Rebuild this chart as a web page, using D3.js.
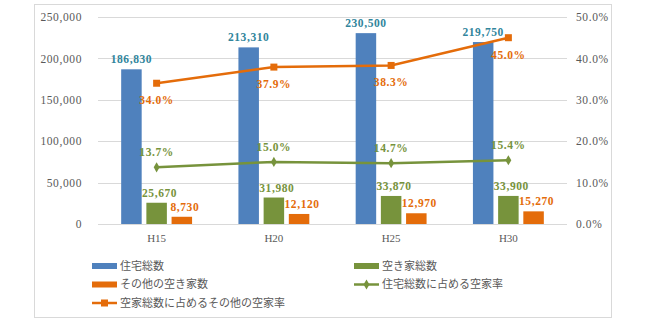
<!DOCTYPE html>
<html><head><meta charset="utf-8">
<script src="https://cdn.jsdelivr.net/npm/d3@7"></script>
<style>body{margin:0;background:#fff}svg{display:block}</style>
</head><body>
<svg id="c" width="650" height="333"></svg>
<script>
const categories = ["H15","H20","H25","H30"];
const totalHouses = [186830, 213310, 230500, 219750];
const vacantHouses = [25670, 31980, 33870, 33900];
const otherVacant = [8730, 12120, 12970, 15270];
const vacantRate = [13.7, 15.0, 14.7, 15.4];
const otherRate = [34.0, 37.9, 38.3, 45.0];
const leftTicks = [0, 50000, 100000, 150000, 200000, 250000];
const rightTicks = [0, 10, 20, 30, 40, 50];
const seriesNames = ["住宅総数","空き家総数","その他の空き家数","住宅総数に占める空家率","空家総数に占めるその他の空家率"];

const C = {blue:"#4F81BD", green:"#77933C", orange:"#E46C0A", blueText:"#31859C", axis:"#595959", grid:"#D9D9D9"};
const numFont = "'Liberation Serif','DejaVu Serif',serif";
const jpFont = "'Noto Sans CJK JP','Noto Sans',sans-serif";
const LS = 0.6;

const svg = d3.select("#c");
svg.append("rect").attr("x",34.5).attr("y",4.5).attr("width",577).attr("height",313)
  .attr("fill","#fff").attr("stroke","#D9D9D9").attr("stroke-width",1);

const x = d3.scaleBand().domain(categories).range([98, 567]);
const yL = d3.scaleLinear().domain([0, 250000]).range([224, 17]);
const yR = d3.scaleLinear().domain([0, 50]).range([224, 17]);

// gridlines
svg.append("g").selectAll("line").data(leftTicks).join("line")
  .attr("x1",98).attr("x2",567).attr("y1",d=>Math.round(yL(d))+0.5).attr("y2",d=>Math.round(yL(d))+0.5)
  .attr("stroke",C.grid).attr("stroke-width",1);

// left axis
const fmt = d3.format(",");
const gL = svg.append("g").attr("transform","translate(90,0)")
  .call(d3.axisLeft(yL).tickValues(leftTicks).tickFormat(fmt).tickSize(0).tickPadding(8));
gL.select(".domain").remove();
gL.selectAll("text").attr("font-family",numFont).attr("font-size",11.5).attr("letter-spacing",LS).attr("fill",C.axis);

// right axis
const gR = svg.append("g").attr("transform","translate(568,0)")
  .call(d3.axisRight(yR).tickValues(rightTicks).tickFormat(d=>d3.format(".1f")(d)+"%").tickSize(0).tickPadding(8));
gR.select(".domain").remove();
gR.selectAll("text").attr("font-family",numFont).attr("font-size",11.5).attr("letter-spacing",LS).attr("fill",C.axis);

// bottom axis
const gB = svg.append("g").attr("transform","translate(0,224)")
  .call(d3.axisBottom(x).tickSize(0).tickPadding(10));
gB.select(".domain").remove();
gB.selectAll("text").attr("font-family",numFont).attr("font-size",11).attr("fill",C.axis);

// bars
const bw = 20.5, gap = 4.7;
const series = [
  {vals: totalHouses, color: C.blue, text: C.blueText, off: -1},
  {vals: vacantHouses, color: C.green, text: C.green, off: 0},
  {vals: otherVacant, color: C.orange, text: C.orange, off: 1}
];
series.forEach(s => {
  const g = svg.append("g");
  g.selectAll("rect").data(categories).join("rect")
    .attr("x",(d)=>x(d)+x.bandwidth()/2 + s.off*(bw+gap) - bw/2)
    .attr("y",(d,i)=>yL(s.vals[i]))
    .attr("width",bw)
    .attr("height",(d,i)=>yL(0)-yL(s.vals[i]))
    .attr("fill",s.color);
  g.selectAll("text").data(categories).join("text")
    .attr("x",(d)=>x(d)+x.bandwidth()/2 + s.off*(bw+gap) + (s.off>=0?3:0))
    .attr("y",(d,i)=>yL(s.vals[i])-6)
    .attr("text-anchor","middle")
    .attr("font-family",numFont).attr("font-size",11.5).attr("font-weight","bold").attr("letter-spacing",LS)
    .attr("fill",s.text)
    .text((d,i)=>fmt(s.vals[i]));
});

// lines
const cx = d => x(d)+x.bandwidth()/2;
const line = vals => d3.line().x((d)=>cx(d)).y((d,i)=>yR(vals[i]))(categories);

svg.append("path").attr("d",line(vacantRate)).attr("fill","none").attr("stroke",C.green).attr("stroke-width",2.5);
svg.append("g").selectAll("path").data(categories).join("path")
  .attr("d",d3.symbol(d3.symbolDiamond,30))
  .attr("transform",(d,i)=>`translate(${cx(d)},${yR(vacantRate[i])})`)
  .attr("fill",C.green);
svg.append("g").selectAll("text").data(categories).join("text")
  .attr("x",d=>cx(d)).attr("y",(d,i)=>yR(vacantRate[i])-11)
  .attr("text-anchor","middle").attr("font-family",numFont).attr("font-size",11.5).attr("font-weight","bold").attr("letter-spacing",LS)
  .attr("fill",C.green).text((d,i)=>d3.format(".1f")(vacantRate[i])+"%");

svg.append("path").attr("d",line(otherRate)).attr("fill","none").attr("stroke",C.orange).attr("stroke-width",2.5);
svg.append("g").selectAll("rect").data(categories).join("rect")
  .attr("x",d=>cx(d)-3.5).attr("y",(d,i)=>yR(otherRate[i])-3.5)
  .attr("width",7).attr("height",7).attr("fill",C.orange);
svg.append("g").selectAll("text").data(categories).join("text")
  .attr("x",d=>cx(d)).attr("y",(d,i)=>yR(otherRate[i])+21)
  .attr("text-anchor","middle").attr("font-family",numFont).attr("font-size",11.5).attr("font-weight","bold").attr("letter-spacing",LS)
  .attr("fill",C.orange).text((d,i)=>d3.format(".1f")(otherRate[i])+"%");

// legend
const legend = [
  {name: seriesNames[0], type:"bar", color:C.blue, x:92, y:266},
  {name: seriesNames[1], type:"bar", color:C.green, x:354, y:266},
  {name: seriesNames[2], type:"bar", color:C.orange, x:92, y:284.5},
  {name: seriesNames[3], type:"diamond", color:C.green, x:354, y:284.5},
  {name: seriesNames[4], type:"square", color:C.orange, x:92, y:303}
];
const lg = svg.append("g");
legend.forEach(l => {
  if (l.type==="bar") {
    lg.append("rect").attr("x",l.x).attr("y",l.y-3).attr("width",25).attr("height",6).attr("fill",l.color);
  } else {
    lg.append("line").attr("x1",l.x).attr("x2",l.x+25).attr("y1",l.y).attr("y2",l.y).attr("stroke",l.color).attr("stroke-width",2.5);
    if (l.type==="diamond") {
      lg.append("path").attr("d",d3.symbol(d3.symbolDiamond,30)).attr("transform",`translate(${l.x+12.5},${l.y})`).attr("fill",l.color);
    } else {
      lg.append("rect").attr("x",l.x+9).attr("y",l.y-3.5).attr("width",7).attr("height",7).attr("fill",l.color);
    }
  }
  lg.append("text").attr("x",l.x+28).attr("y",l.y).attr("dy","0.36em")
    .attr("font-family",jpFont).attr("font-size",11).attr("fill",C.axis).text(l.name);
});
</script>
</body></html>
